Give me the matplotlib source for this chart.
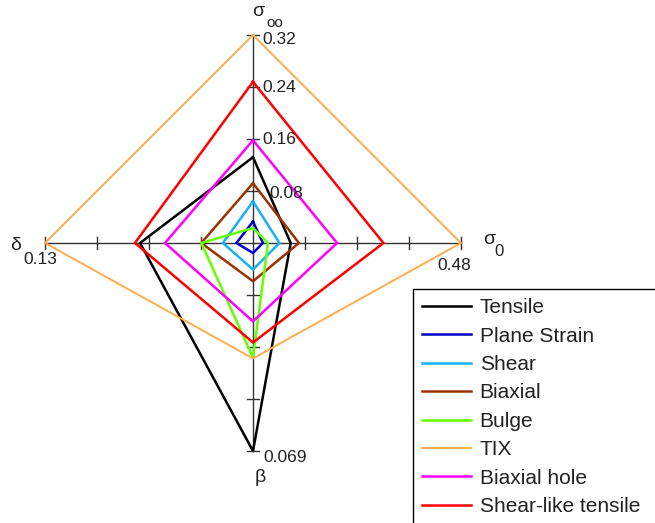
import matplotlib
matplotlib.use('Agg')
import matplotlib.pyplot as plt
from matplotlib.patches import Rectangle
import numpy as np

plt.rcParams['font.family'] = ['Liberation Sans', 'DejaVu Sans']

# axes of the diamond: top, right, bottom, left
axis_max = [0.32, 0.48, 0.069, 0.13]
tick_labels = ['0.32', '0.24', '0.16', '0.08']

series_names = ['Tensile', 'Plane Strain', 'Shear', 'Biaxial', 'Bulge', 'TIX',
                'Biaxial hole', 'Shear-like tensile']
series_colors = ['#000000', '#0000cc', '#1ab0f5', '#993300', '#66ff00', '#ffad4d',
                 '#ff00ff', '#ff0000']
# values per series: [sigma_oo, sigma_0, beta, delta]
tensile = [0.132, 0.087, 0.069, 0.0706]
plane_strain = [0.033, 0.023, 0.0033, 0.0104]
shear = [0.064, 0.061, 0.0088, 0.0188]
biaxial = [0.092, 0.106, 0.0127, 0.0323]
bulge = [0.023, 0.0345, 0.038, 0.0323]
tix = [0.32, 0.48, 0.0383, 0.13]
biaxial_hole = [0.158, 0.194, 0.026, 0.055]
shear_like = [0.248, 0.301, 0.033, 0.0738]
all_series = [tensile, plane_strain, shear, biaxial, bulge, tix, biaxial_hole, shear_like]

W, H = 655, 523
fig = plt.figure(figsize=(W / 100, H / 100), dpi=100)
ax = fig.add_axes([0, 0, 1, 1])
ax.set_xlim(0, W)
ax.set_ylim(H, 0)
ax.axis('off')

cx, cy, R = 253, 243, 208
dirs = np.array([[0, -1], [1, 0], [0, 1], [-1, 0]])

# axes with 4 ticks each
for d in dirs:
    ax.plot([cx, cx + d[0] * R], [cy, cy + d[1] * R], color='#333333', lw=1.0, zorder=1)
    for k in range(1, 5):
        px, py = cx + d[0] * R * k / 4, cy + d[1] * R * k / 4
        perp = np.array([d[1], d[0]])
        ax.plot([px - perp[0] * 6, px + perp[0] * 6], [py - perp[1] * 6, py + perp[1] * 6],
                color='#333333', lw=1.0, zorder=1)

lws = [1.8, 1.8, 1.8, 1.8, 1.8, 1.4, 1.8, 1.8]
for vals, name, col, lw in zip(all_series, series_names, series_colors, lws):
    frac = np.array(vals) / np.array(axis_max)
    xs = cx + dirs[:, 0] * frac * R
    ys = cy + dirs[:, 1] * frac * R
    ax.plot(np.append(xs, xs[0]), np.append(ys, ys[0]), color=col, lw=lw,
            label=name, zorder=3, solid_joinstyle='miter')

tc = '#222222'
fs = 12.5
# top axis tick labels
for k, lab in enumerate(tick_labels):
    py = cy - R * (4 - k) / 4
    dx, dy = (262, 5) if k == 0 else ((269, 3) if k == 3 else (262, 1))
    ax.text(dx, py + dy, lab, fontsize=fs, color=tc, ha='left', va='center', zorder=4)
ax.text(cx + R - 7, cy + 22, '0.48', fontsize=fs, color=tc, ha='center', va='center')
ax.text(cx + 10, cy + R + 6, '0.069', fontsize=fs, color=tc, ha='left', va='center')
ax.text(cx - R - 5, cy + 17, '0.13', fontsize=fs, color=tc, ha='center', va='center')

# axis names
ax.text(258, 11, 'σ', fontsize=14, color=tc, ha='center', va='center')
ax.text(275, 23, 'oo', fontsize=11, color=tc, ha='center', va='center')
ax.text(489, 240, 'σ', fontsize=14, color=tc, ha='center', va='center')
ax.text(499, 252, '0', fontsize=12, color=tc, ha='center', va='center')
ax.text(16, 246, 'δ', fontsize=14, color=tc, ha='center', va='center')
ax.text(260, 477, 'β', fontsize=14, color=tc, ha='center', va='center')

# legend box runs off the right and bottom edges of the image: only top/left borders show
ax.add_patch(Rectangle((413, 289), 300, 300, facecolor='white', edgecolor='none',
                       zorder=5, clip_on=False))
ax.plot([413, 413, W + 20], [H + 20, 289, 289], color='black', lw=1.0, zorder=5,
        solid_joinstyle='miter', clip_on=True)
leg = ax.legend(loc='upper left', bbox_to_anchor=(413 / W, 1 - 289 / H),
                bbox_transform=fig.transFigure, borderaxespad=0, frameon=False,
                fontsize=15, handlelength=2.35, handletextpad=0.4, labelspacing=0.45,
                borderpad=0.45)
leg.set_zorder(6)
for t in leg.get_texts():
    t.set_color(tc)

fig.savefig('out.png', dpi=100)
